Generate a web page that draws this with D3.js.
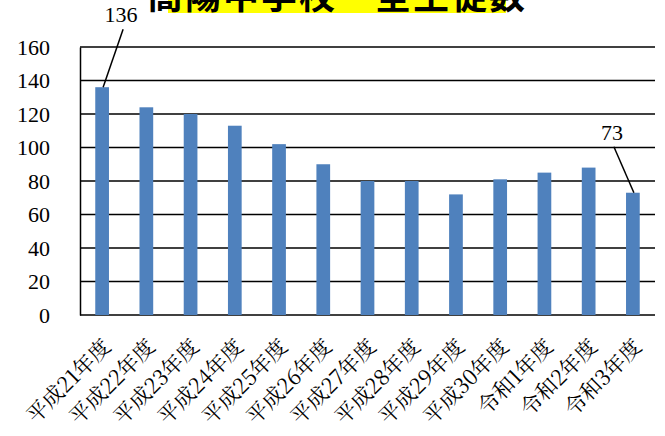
<!DOCTYPE html>
<html>
<head>
<meta charset="utf-8">
<script src="https://cdn.jsdelivr.net/npm/d3@7"></script>
<style>
  html, body { margin: 0; padding: 0; background: #fff; }
  svg { display: block; }
  .num { font-family: "Liberation Serif", "DejaVu Serif", "Times New Roman", serif; }
  .jp  { font-family: "Noto Serif CJK JP", "Noto Sans CJK JP", sans-serif; }
</style>
</head>
<body>
<svg id="chart" width="665" height="436"></svg>
<script>
// Student counts per school year
const categories = ["平成21年度","平成22年度","平成23年度","平成24年度","平成25年度","平成26年度","平成27年度","平成28年度","平成29年度","平成30年度","令和1年度","令和2年度","令和3年度"];
const students = [136, 124, 120, 113, 102, 90, 80, 80, 72, 81, 85, 88, 73];
const yTicks = [0, 20, 40, 60, 80, 100, 120, 140, 160];
const titleText = "高陽中学校　全生徒数";
// bars whose values are called out with a leader line
const callouts = [0, 12];

const svg = d3.select("#chart");
const margin = { left: 80, right: 10, top: 47, bottom: 121 };
const W = 665, H = 436;

const x = d3.scaleBand()
  .domain(categories)
  .range([margin.left, W - margin.right])
  .paddingInner(0.69)
  .paddingOuter(0.345);

const y = d3.scaleLinear()
  .domain([0, 160])
  .range([H - margin.bottom, margin.top]);

// Title banner (runs off the top edge)
const titleG = svg.append("g");
titleG.append("rect")
  .attr("x", 168).attr("y", 0).attr("width", 338).attr("height", 13)
  .attr("fill", "#ffff00");
titleG.append("text")
  .attr("x", 337).attr("y", 9)
  .attr("text-anchor", "middle")
  .style("font-family", "'Noto Sans CJK JP', sans-serif")
  .style("font-weight", "bold")
  .style("font-size", "36px")
  .attr("letter-spacing", 2)
  .attr("fill", "#000")
  .text(titleText);

// Gridlines
svg.append("g")
  .selectAll("line")
  .data(yTicks)
  .join("line")
  .attr("x1", margin.left).attr("x2", W - margin.right)
  .attr("y1", d => y(d)).attr("y2", d => y(d))
  .attr("stroke", "#000")
  .attr("stroke-width", 1.5);

// Bars
svg.append("g")
  .selectAll("rect")
  .data(students)
  .join("rect")
  .attr("x", (d, i) => x(categories[i]))
  .attr("y", d => y(d))
  .attr("width", x.bandwidth())
  .attr("height", d => y(0) - y(d))
  .attr("fill", "#4f81bd");

// Value axis
const yAxis = svg.append("g")
  .attr("transform", `translate(${margin.left},0)`)
  .call(d3.axisLeft(y).tickValues(yTicks).tickSize(0).tickPadding(30));
yAxis.attr("font-family", null).attr("font-size", null);
yAxis.select(".domain").attr("stroke", "#000").attr("stroke-width", 1.5);
yAxis.selectAll("text")
  .attr("class", "num")
  .style("font-size", "22px")
  .attr("dy", "0.34em")
  .attr("fill", "#000");

// Category axis with slanted labels
const xAxis = svg.append("g")
  .attr("transform", `translate(0,${y(0)})`)
  .call(d3.axisBottom(x).tickSize(0));
xAxis.attr("font-family", null).attr("font-size", null);
xAxis.select(".domain").remove();
xAxis.selectAll("text")
  .attr("class", "jp")
  .style("font-size", "21.5px")
  .attr("fill", "#000")
  .attr("text-anchor", "end")
  .attr("y", 0)
  .attr("dy", 0)
  .attr("transform", "translate(10,33) rotate(-45)");

// Callout labels with leader lines
const calloutOffsets = { 0: { dx: 21, dy: -69 }, 12: { dx: -19, dy: -57 } };
const cg = svg.append("g");
callouts.forEach(i => {
  const cx = x(categories[i]) + x.bandwidth() / 2;
  const cy = y(students[i]);
  const o = calloutOffsets[i];
  cg.append("line")
    .attr("x1", cx + 1).attr("y1", cy)
    .attr("x2", cx + o.dx).attr("y2", cy + o.dy + 11)
    .attr("stroke", "#000").attr("stroke-width", 1.5);
  cg.append("text")
    .attr("class", "num")
    .attr("x", cx + o.dx - 2).attr("y", cy + o.dy + 4)
    .attr("text-anchor", "middle")
    .style("font-size", "22px")
    .attr("fill", "#000")
    .text(students[i]);
});
</script>
</body>
</html>
